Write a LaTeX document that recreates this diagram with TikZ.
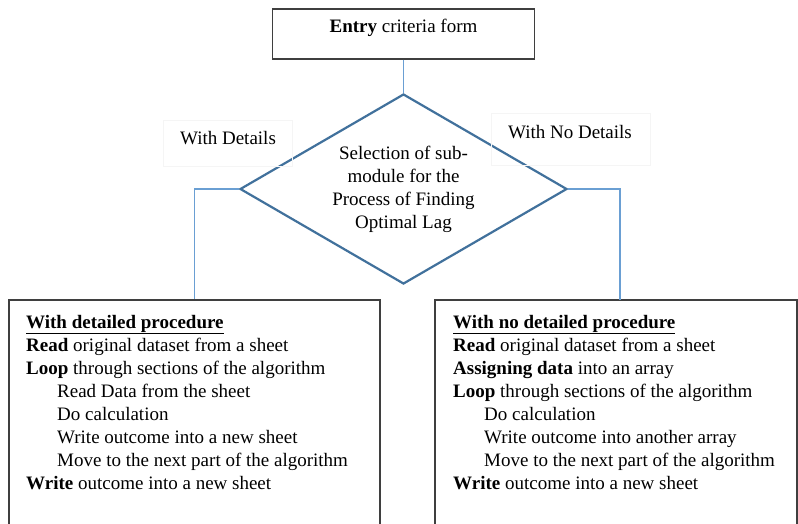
\documentclass[tikz,border=0pt]{standalone}
\usepackage{fontspec}
\setmainfont{Liberation Serif}
\usetikzlibrary{shapes.geometric}
\definecolor{diab}{HTML}{41719C}
\definecolor{connb}{HTML}{6A9FD3}
\definecolor{boxg}{HTML}{3F3F3F}
\begin{document}
\begin{tikzpicture}[x=1pt,y=-1pt,
  txt/.style={inner sep=0pt,font=\fontsize{19}{23}\selectfont},
  conn/.style={draw=connb,line width=1.1pt},
  boxst/.style={draw=boxg,line width=1.1pt,rectangle,inner sep=0pt},
  lblbox/.style={draw=black!4,line width=0.8pt,rectangle,inner sep=0pt}]
\clip (0,0) rectangle (798,523);
\fill[white] (0,0) rectangle (798,523);
% top box
\node[boxst,minimum width=262pt,minimum height=50pt] (entry) at (403.5,34) {};
\node[txt] (entrytxt) at (403.5,28) {\textbf{Entry} criteria form};
% diamond
\node[diamond,draw=diab,line width=2.2pt,inner sep=0pt,minimum width=327pt,minimum height=190pt] (dia) at (403.5,189) {};
\node[txt,align=center] (diatxt) at (403.5,189) {Selection of sub-\\module for the\\Process of Finding\\Optimal Lag};
% label boxes
\node[lblbox,minimum width=129pt,minimum height=46pt] (lbl1box) at (227.5,143) {};
\node[lblbox,minimum width=159pt,minimum height=52pt] (lbl2box) at (570.5,139) {};
\node[txt] (lbl1) at (228,138) {With Details};
\node[txt] (lbl2) at (570,132) {With No Details};
% bottom boxes
\node[boxst,minimum width=371pt,minimum height=260pt] (lbox) at (194.5,430) {};
\node[boxst,minimum width=362pt,minimum height=260pt] (rbox) at (616,430) {};
% connectors
\draw[conn] (entry.south) -- (dia.north);
\draw[conn] (dia.west) -| (lbox.north);
\draw[conn] (dia.east) -| (620,300) coordinate (rtop);
% left text
\node[txt,anchor=base west] (a1) at (26,328) {\underline{\textbf{With detailed procedure}}};
\node[txt,anchor=base west] (a2) at (26,351) {\textbf{Read} original dataset from a sheet};
\node[txt,anchor=base west] (a3) at (26,374) {\textbf{Loop} through sections of the algorithm};
\node[txt,anchor=base west] (a4) at (57,397) {Read Data from the sheet};
\node[txt,anchor=base west] (a5) at (57,420) {Do calculation};
\node[txt,anchor=base west] (a6) at (57,443) {Write outcome into a new sheet};
\node[txt,anchor=base west] (a7) at (57,466) {Move to the next part of the algorithm};
\node[txt,anchor=base west] (a8) at (26,489) {\textbf{Write} outcome into a new sheet};
% right text
\node[txt,anchor=base west] (b1) at (453,328) {\underline{\textbf{With no detailed procedure}}};
\node[txt,anchor=base west] (b2) at (453,351) {\textbf{Read} original dataset from a sheet};
\node[txt,anchor=base west] (b3) at (453,374) {\textbf{Assigning data} into an array};
\node[txt,anchor=base west] (b4) at (453,397) {\textbf{Loop} through sections of the algorithm};
\node[txt,anchor=base west] (b5) at (484,420) {Do calculation};
\node[txt,anchor=base west] (b6) at (484,443) {Write outcome into another array};
\node[txt,anchor=base west] (b7) at (484,466) {Move to the next part of the algorithm};
\node[txt,anchor=base west] (b8) at (453,489) {\textbf{Write} outcome into a new sheet};
\end{tikzpicture}
\end{document}
